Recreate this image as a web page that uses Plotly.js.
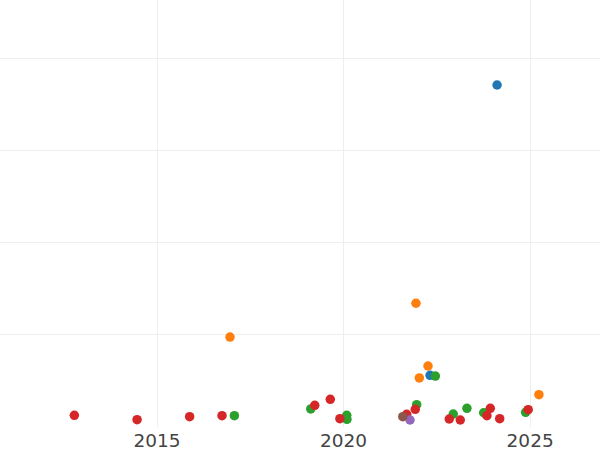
<!DOCTYPE html>
<html>
<head>
<meta charset="utf-8">
<script src="https://cdn.plot.ly/plotly-3.0.1.min.js"></script>
<style>html,body{margin:0;padding:0;background:#fff;}#chart{width:600px;height:450px;}</style>
</head>
<body>
<div id="chart"></div>
<script>
// Series (dates, values)
const blueX = ["2024-02-12", "2022-04-27"];
const blueY = [371.7, 56.2];

const orangeX = ["2016-12-15", "2021-12-10", "2022-04-07", "2022-01-12", "2025-03-28"];
const orangeY = [97.8, 134.5, 66.3, 53.3, 35.1];

const greenX = ["2017-01-27", "2019-02-14", "2020-02-01", "2020-02-03", "2022-06-18",
                "2021-12-17", "2022-12-10", "2023-04-23", "2023-10-04", "2024-11-18"];
const greenY = [12.3, 19.6, 12.7, 8.4, 55.4, 24.2, 14.1, 20.3, 15.5, 16.0];

const redX = ["2012-10-13", "2014-06-19", "2015-11-16", "2016-09-28", "2019-03-25",
              "2019-08-24", "2019-11-26", "2021-12-03", "2021-09-10", "2022-11-01",
              "2023-02-17", "2023-12-08", "2023-11-05", "2024-03-09", "2024-12-13"];
const redY = [12.7, 7.9, 11.2, 12.3, 23.6, 30.1, 9.0, 19.2, 13.8, 8.7, 7.6, 20.3, 12.3, 9.0, 18.8];

const purpleX = ["2021-10-13"];
const purpleY = [7.6];

const brownX = ["2021-08-03"];
const brownY = [11.2];

const series = [
  {x: blueX, y: blueY},
  {x: orangeX, y: orangeY},
  {x: greenX, y: greenY},
  {x: redX, y: redY},
  {x: purpleX, y: purpleY},
  {x: brownX, y: brownY}
];

const traces = series.map(s => ({
  type: "scatter",
  mode: "markers",
  x: s.x,
  y: s.y,
  marker: {size: 9.5},
  hoverinfo: "x+y"
}));

const layout = {
  width: 600,
  height: 450,
  margin: {l: 0, r: 0, t: 0, b: 23, pad: 0},
  showlegend: false,
  paper_bgcolor: "#fff",
  plot_bgcolor: "#fff",
  font: {family: "DejaVu Sans, sans-serif", size: 18.5, color: "#444"},
  xaxis: {
    type: "date",
    range: ["2010-10-16", "2026-11-16"],
    tickvals: ["2015-01-01", "2020-01-01", "2025-01-01"],
    ticktext: ["2015", "2020", "2025"],
    showgrid: true,
    gridcolor: "#eee",
    zeroline: false,
    showline: false,
    ticks: ""
  },
  yaxis: {
    range: [0, 464.1],
    dtick: 100,
    tick0: 0,
    showticklabels: false,
    showgrid: true,
    gridcolor: "#eee",
    zeroline: false,
    showline: false,
    ticks: ""
  }
};

Plotly.newPlot("chart", traces, layout, {displayModeBar: false, staticPlot: true});
</script>
</body>
</html>
